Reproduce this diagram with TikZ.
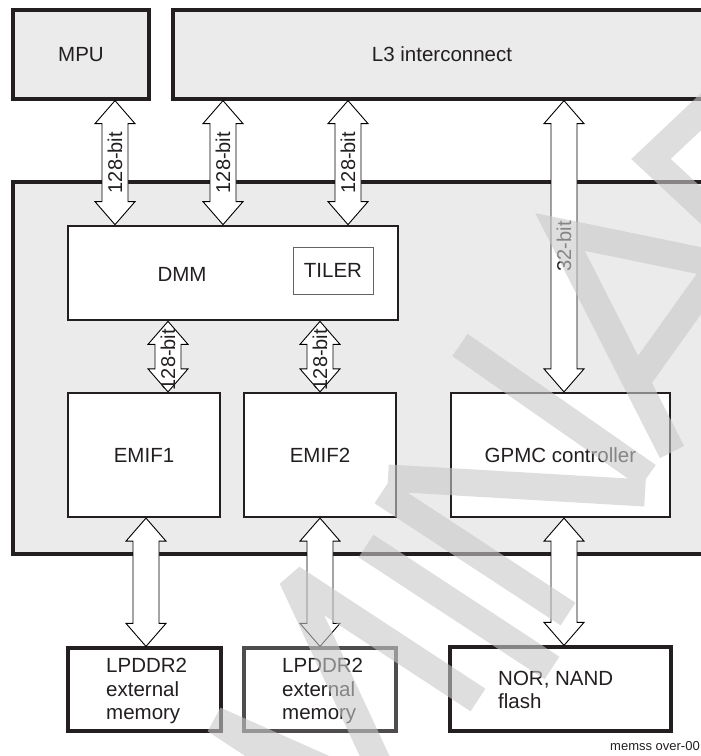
\documentclass[tikz,border=0pt]{standalone}
\usepackage{fontspec}
\setmainfont{Liberation Sans}
\usetikzlibrary{calc}
\definecolor{ink}{HTML}{231F20}
\definecolor{panel}{HTML}{EBEBEB}
\definecolor{wmgray}{RGB}{200,200,200}
\tikzset{
  blk/.style={draw=ink, rectangle, inner sep=0pt, text=ink, font=\fontsize{20.5}{24}\selectfont},
  outerblk/.style={blk, fill=panel, line width=3.2pt},
  innerblk/.style={blk, fill=white, line width=2.2pt},
  extblk/.style={blk, fill=white, line width=3.2pt},
  busline/.style={draw=black, fill=white, line width=0.9pt, line join=miter},
  buslabel/.style={rotate=90, inner sep=0pt, text=ink, font=\fontsize{20}{24}\selectfont},
  txt/.style={inner sep=0pt, text=ink, font=\fontsize{20.5}{24}\selectfont},
  wmk/.style={draw=wmgray, draw opacity=0.6, line width=27pt, line cap=butt},
}
% double-headed bus arrow between two named points (#1 top, #2 bottom)
\newcommand{\busarrow}[2]{%
  \draw[busline] (#1) -- ++(20,23) -- ++(-7,0) -- ($(#2)+(13,-23)$) -- ++(7,0) -- (#2)
    -- ++(-20,-23) -- ++(7,0) -- ($(#1)+(-13,23)$) -- ++(-7,0) -- cycle;}
\begin{document}
\begin{tikzpicture}[x=1pt,y=-1pt]
\useasboundingbox (0,0) rectangle (701,756);
% outer blocks
\node[outerblk, minimum width=136pt, minimum height=89pt] (mpu) at (81,54.5) {MPU};
\node[outerblk, minimum width=538pt, minimum height=89pt] (l3) at (442,54.5) {L3 interconnect};
\node[outerblk, minimum width=700pt, minimum height=372pt] (chip) at (363,368) {};
% inner blocks
\node[blk, fill=white, line width=2.7pt, minimum width=330pt, minimum height=94pt] (dmm) at (233,273) {};
\node[txt] (dmmtxt) at (182,274.5) {DMM};
\node[blk, fill=white, draw=ink!70, line width=0.9pt, minimum width=80pt, minimum height=47pt] (tiler) at (333,270.5) {TILER};
\node[innerblk, minimum width=152pt, minimum height=124pt] (emif1) at (144,455) {EMIF1};
\node[innerblk, minimum width=152pt, minimum height=124pt] (emif2) at (320,455) {EMIF2};
\node[innerblk, minimum width=219pt, minimum height=124pt] (gpmc) at (560.5,455) {GPMC controller};
% external blocks
\node[extblk, minimum width=153pt, minimum height=83pt] (lp1) at (144.5,689.5) {};
\node[extblk, draw=ink!80, minimum width=152pt, minimum height=83pt] (lp2) at (320,689.5) {};
\node[extblk, minimum width=221pt, minimum height=84pt] (nor) at (560.5,689) {};
\node[txt, anchor=north west, align=left, font=\fontsize{20.5}{23.5}\selectfont] (lp1txt) at (106,658.3) {LPDDR2\\external\\memory};
\node[txt, anchor=north west, align=left, font=\fontsize{20.5}{23.5}\selectfont] (lp2txt) at (282,658.3) {LPDDR2\\external\\memory};
\node[txt, anchor=north west, align=left, font=\fontsize{20.5}{22.5}\selectfont] (nortxt) at (498,671.3) {NOR, NAND\\flash};
% bus end points
\coordinate (a1t) at (115,0 |- mpu.south);  \coordinate (a1b) at (115,0 |- dmm.north);
\coordinate (a2t) at (223,0 |- l3.south);   \coordinate (a2b) at (223,0 |- dmm.north);
\coordinate (a3t) at (348,0 |- l3.south);   \coordinate (a3b) at (348,0 |- dmm.north);
\coordinate (a4t) at (564,0 |- l3.south);   \coordinate (a4b) at (564,0 |- gpmc.north);
\coordinate (b1t) at (168,0 |- dmm.south);  \coordinate (b1b) at (168,0 |- emif1.north);
\coordinate (b2t) at (320,0 |- dmm.south);  \coordinate (b2b) at (320,0 |- emif2.north);
\coordinate (c1t) at (146,0 |- emif1.south); \coordinate (c1b) at (146,0 |- lp1.north);
\coordinate (c2t) at (320,0 |- emif2.south); \coordinate (c2b) at (320,0 |- lp2.north);
\coordinate (c3t) at (564,0 |- gpmc.south);  \coordinate (c3b) at (564,0 |- nor.north);
% buses
\busarrow{a1t}{a1b} \busarrow{a2t}{a2b} \busarrow{a3t}{a3b} \busarrow{a4t}{a4b}
\busarrow{b1t}{b1b} \busarrow{b2t}{b2b}
\busarrow{c1t}{c1b} \busarrow{c2t}{c2b} \busarrow{c3t}{c3b}
\node[buslabel] (l1) at ($(a1t)!0.5!(a1b)$) {128-bit};
\node[buslabel] (l2) at ($(a2t)!0.5!(a2b)$) {128-bit};
\node[buslabel] (l3lab) at ($(a3t)!0.5!(a3b)$) {128-bit};
\node[buslabel] (l4) at ($(a4t)!0.5!(a4b)$) {32-bit};
\node[buslabel] (l5) at ($(b1t)!0.5!(b1b)+(0,3)$) {128-bit};
\node[buslabel] (l6) at ($(b2t)!0.5!(b2b)+(0,3)$) {128-bit};
% caption
\node[anchor=base east, inner sep=0pt, text=ink, font=\fontsize{13}{15}\selectfont] (cap) at (700,750) {memss over-00};
% watermark: large rotated letters M I N A R, drawn on top in translucent grey
\draw[wmk, line join=bevel] (401,842) -- (215,720) -- (395,800) -- (292,578) -- (478,700);   % M
\draw[wmk] (366,546) -- (552,668);                                                           % I
\draw[wmk] (382,492) -- (568,614) (388,478) -- (645,493) (460,345) -- (648,476);            % N
\draw[wmk, line join=miter] (672,452) -- (560,232) -- (760,273) (636,382) -- (716,270);     % A
\draw[wmk, line join=miter] (724,90) -- (651,159) -- (724,227);                             % R
\end{tikzpicture}
\end{document}
